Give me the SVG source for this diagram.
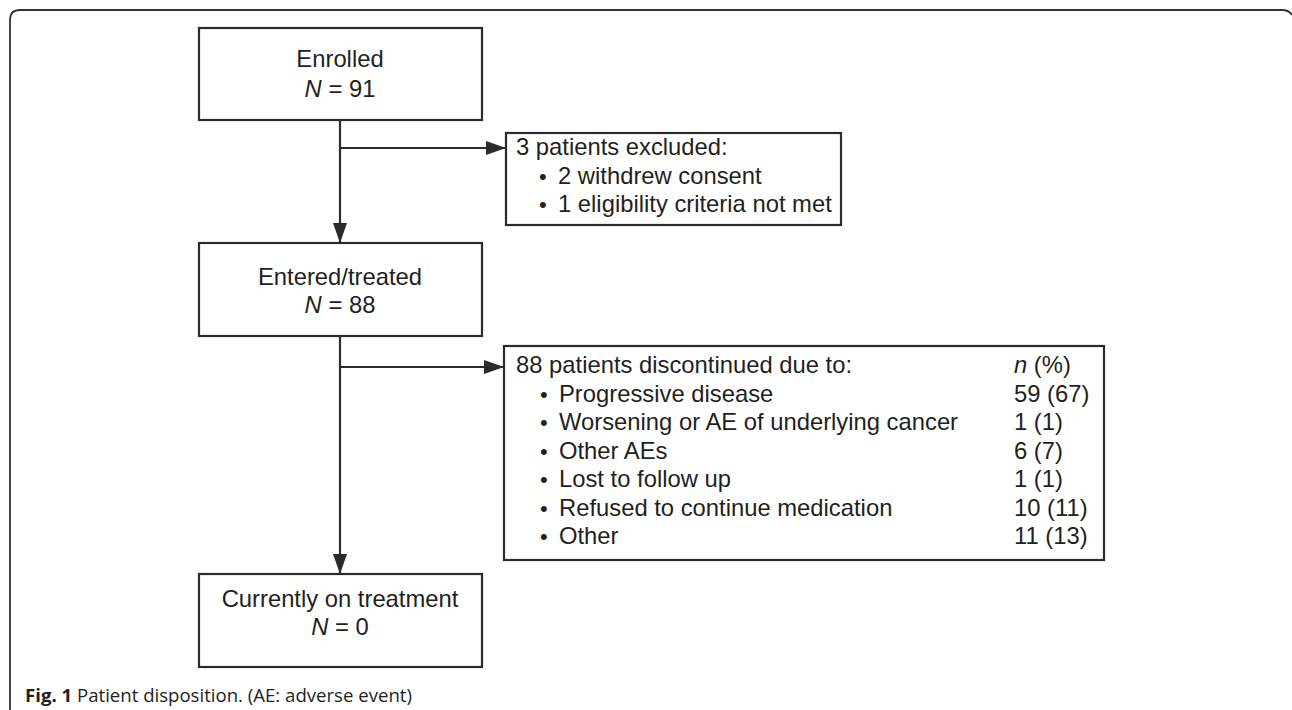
<svg xmlns="http://www.w3.org/2000/svg" width="1292" height="710" viewBox="0 0 1292 710">
<style>
.box{fill:#fff;stroke:#2b2b2b;stroke-width:2.2}
.t{font-family:"Liberation Sans",Arial,sans-serif;font-size:23.8px;fill:#231f20}
.c{text-anchor:middle}
.b{font-size:22px}
.ln{stroke:#2b2b2b;stroke-width:2.2;fill:none}
.frame{stroke:#333;stroke-width:1.8;fill:none}
.cap{font-family:"Open Sans","Noto Sans",sans-serif;font-size:18.6px;fill:#231f20}
</style>
<defs>
<marker id="ah" viewBox="0 0 20 14" refX="20" refY="7" markerWidth="20" markerHeight="14" markerUnits="userSpaceOnUse" orient="auto">
<path d="M0,0 L20,7 L0,14 Z" fill="#2b2b2b"/>
</marker>
</defs>
<path class="frame" d="M10,710 V20 Q10,10 20,10 H1282 Q1289,10 1292,15"/>
<g id="connectors">
<line class="ln" x1="340" y1="120" x2="340" y2="243" marker-end="url(#ah)"/>
<line class="ln" x1="340" y1="148" x2="506" y2="148" marker-end="url(#ah)"/>
<line class="ln" x1="340" y1="336" x2="340" y2="574" marker-end="url(#ah)"/>
<line class="ln" x1="340" y1="367" x2="504" y2="367" marker-end="url(#ah)"/>
</g>
<g id="enrolled">
<rect class="box" x="199" y="28" width="283" height="92"/>
<text class="t c" x="340" y="67">Enrolled</text>
<text class="t c" x="340" y="97"><tspan font-style="italic">N</tspan> = 91</text>
</g>
<g id="excluded">
<rect class="box" x="506" y="133" width="335" height="92"/>
<text class="t" x="516" y="155">3 patients excluded:</text>
<text class="t" x="539" y="184"><tspan class="b">•</tspan><tspan x="558">2 withdrew consent</tspan></text>
<text class="t" x="539" y="212"><tspan class="b">•</tspan><tspan x="558">1 eligibility criteria not met</tspan></text>
</g>
<g id="entered">
<rect class="box" x="199" y="243" width="283" height="93"/>
<text class="t c" x="340" y="285">Entered/treated</text>
<text class="t c" x="340" y="313"><tspan font-style="italic">N</tspan> = 88</text>
</g>
<g id="discontinued">
<rect class="box" x="504" y="346" width="600" height="214"/>
<text class="t" x="516" y="373">88 patients discontinued due to:</text>
<text class="t" x="1014" y="373"><tspan font-style="italic">n</tspan> (%)</text>
<text class="t" x="540" y="402"><tspan class="b">•</tspan><tspan x="559">Progressive disease</tspan></text>
<text class="t" x="1014" y="402">59 (67)</text>
<text class="t" x="540" y="430"><tspan class="b">•</tspan><tspan x="559">Worsening or AE of underlying cancer</tspan></text>
<text class="t" x="1014" y="430">1 (1)</text>
<text class="t" x="540" y="459"><tspan class="b">•</tspan><tspan x="559">Other AEs</tspan></text>
<text class="t" x="1014" y="459">6 (7)</text>
<text class="t" x="540" y="487"><tspan class="b">•</tspan><tspan x="559">Lost to follow up</tspan></text>
<text class="t" x="1014" y="487">1 (1)</text>
<text class="t" x="540" y="516"><tspan class="b">•</tspan><tspan x="559">Refused to continue medication</tspan></text>
<text class="t" x="1014" y="516">10 (11)</text>
<text class="t" x="540" y="544"><tspan class="b">•</tspan><tspan x="559">Other</tspan></text>
<text class="t" x="1014" y="544">11 (13)</text>
</g>
<g id="current">
<rect class="box" x="199" y="574" width="283" height="93"/>
<text class="t c" x="340" y="607">Currently on treatment</text>
<text class="t c" x="340" y="635"><tspan font-style="italic">N</tspan> = 0</text>
</g>
<text class="cap" x="25" y="702"><tspan font-weight="bold">Fig. 1</tspan> Patient disposition. (AE: adverse event)</text>
</svg>
